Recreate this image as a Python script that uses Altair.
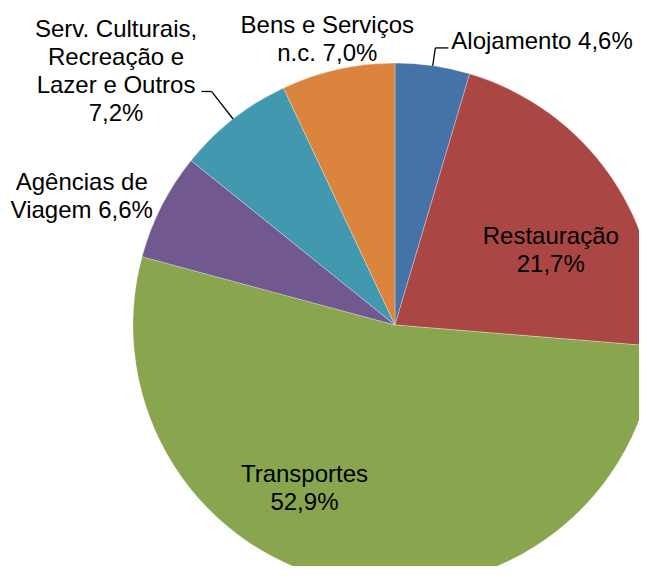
import altair as alt
import pandas as pd

# ---- data ----
categories = ["Alojamento", "Restauração", "Transportes", "Agências de Viagem",
              "Serv. Culturais, Recreação e Lazer e Outros", "Bens e Serviços n.c."]
shares = [4.6, 21.7, 52.9, 6.6, 7.2, 7.0]
label_texts = ["Alojamento 4,6%", "Restauração\n21,7%", "Transportes\n52,9%",
               "Agências de\nViagem 6,6%",
               "Serv. Culturais,\nRecreação e\nLazer e Outros\n7,2%",
               "Bens e Serviços\nn.c. 7,0%"]

# ---- styling ----
colors = ["#4572A7", "#AA4643", "#89A54E", "#71588F", "#4198AF", "#DB843D"]
label_radius = [285, 173, 166, 282, 322, 292]
label_dx = [106, 13, -62, -62, -80, -4]
label_dy = [-1, 24, 0, 0, 0, 0]
leader_elbow = [280, 0, 0, 0, 297, 0]
leader_tail = [13, 0, 0, 0, -10, 0]

CX, CY, R = 387, 317, 262
LH = 28

df = pd.DataFrame({
    "cat": categories, "share": shares, "label": label_texts,
    "order": list(range(len(categories))),
    "lr": label_radius, "ldx": label_dx, "ldy": label_dy,
    "elbow": leader_elbow, "tail": leader_tail,
})

arcs = alt.Chart(df).mark_arc(radius=R, stroke="white", strokeWidth=0.3).encode(
    theta=alt.Theta("share:Q", stack=True),
    color=alt.Color("cat:N", scale=alt.Scale(domain=categories, range=colors), legend=None),
    order=alt.Order("order:Q"),
    x=alt.value(CX), y=alt.value(CY),
)

base = alt.Chart(df).transform_window(
    cum="sum(share)", sort=[alt.SortField("order")], frame=[None, 0]
).transform_calculate(
    ang="2*PI*(datum.cum - datum.share/2)/100"
)

texts = base.transform_calculate(
    nl="length(split(datum.label, '\\n'))",
).transform_calculate(
    lx=f"{CX} + datum.lr*sin(datum.ang) + datum.ldx",
    ly=f"{CY} - datum.lr*cos(datum.ang) + datum.ldy - (datum.nl - 1)*{LH}/2",
).mark_text(
    font="Liberation Sans", fontSize=24, lineBreak="\n", lineHeight=LH,
    align="center", baseline="middle", color="black"
).encode(
    x=alt.X("lx:Q", scale=None), y=alt.Y("ly:Q", scale=None), text="label:N"
)

leaders = base.transform_filter("datum.elbow > 0").transform_calculate(
    x1=f"{CX} + {R}*sin(datum.ang)",
    y1=f"{CY} - {R}*cos(datum.ang)",
    x2=f"{CX} + datum.elbow*sin(datum.ang)",
    y2=f"{CY} - datum.elbow*cos(datum.ang)",
    x3=f"{CX} + datum.elbow*sin(datum.ang) + datum.tail",
)

lead1 = leaders.mark_rule(color="black", strokeWidth=1.3).encode(
    x=alt.X("x1:Q", scale=None), y=alt.Y("y1:Q", scale=None),
    x2="x2:Q", y2="y2:Q",
)
lead2 = leaders.mark_rule(color="black", strokeWidth=1.3).encode(
    x=alt.X("x2:Q", scale=None), y=alt.Y("y2:Q", scale=None),
    x2="x3:Q", y2="y2:Q",
)

chart = alt.layer(arcs, lead1, lead2, texts).properties(
    width=631, height=558, padding=0,
    autosize=alt.AutoSizeParams(type="none"),
    background="white",
).configure_view(stroke=None)

chart.save("out.html", embed_options={"renderer": "svg", "actions": False})
